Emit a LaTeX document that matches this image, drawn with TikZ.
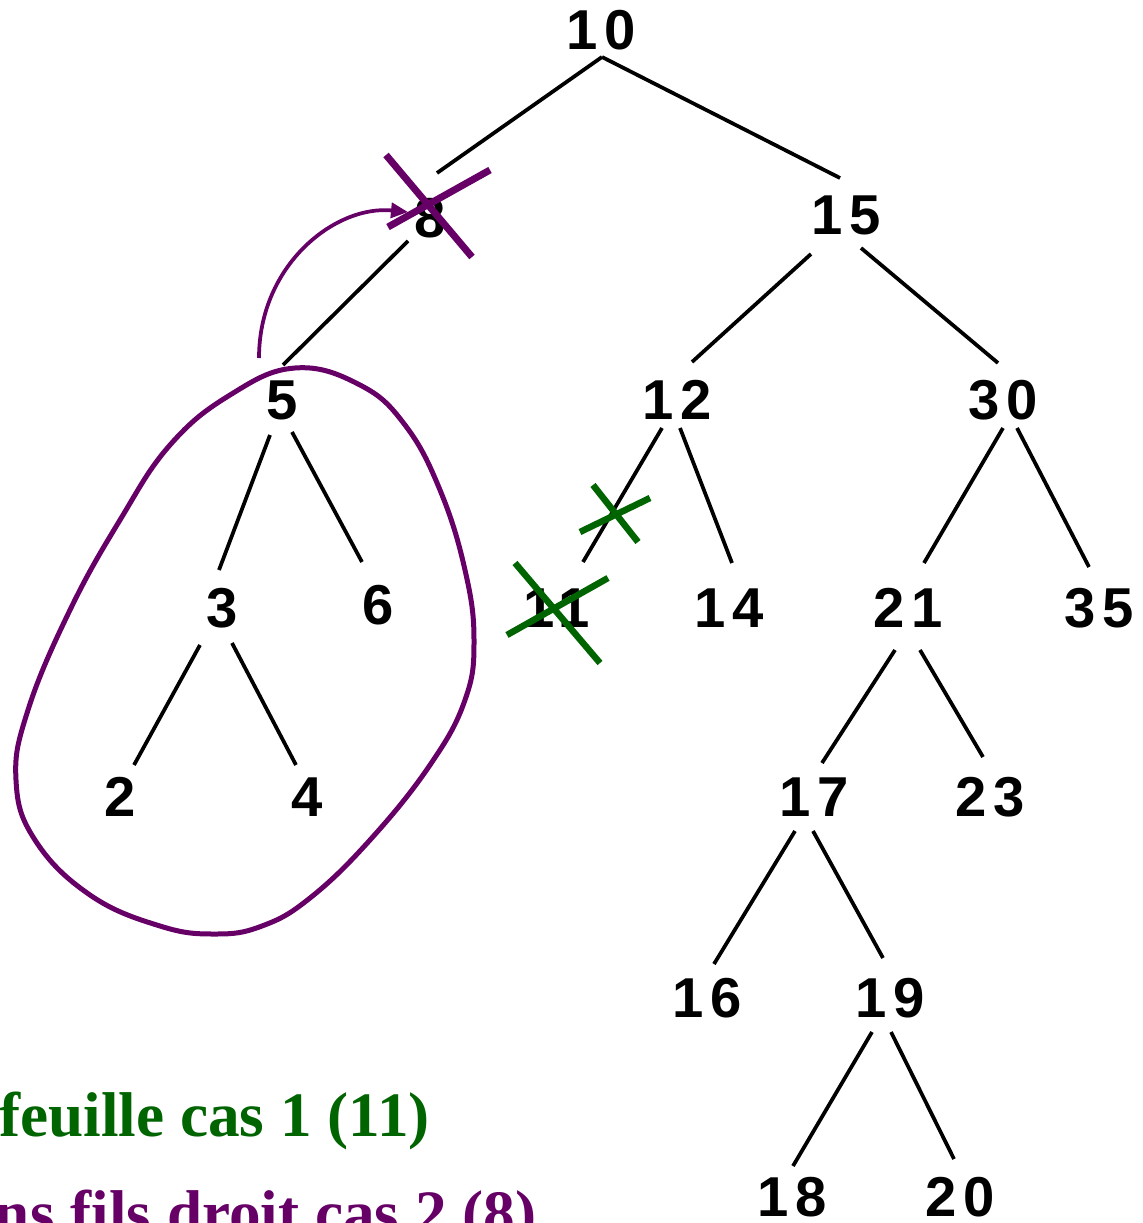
\documentclass[tikz,border=0pt]{standalone}
\usepackage{fontspec}
\newfontfamily\keyfont[LetterSpace=12]{Liberation Sans}
\newfontfamily\notefont{Liberation Serif}
\usetikzlibrary{arrows.meta}
\definecolor{casgreen}{RGB}{0,100,0}
\definecolor{caspurple}{RGB}{102,0,102}

\begin{document}
\begin{tikzpicture}[
  x=0.02cm, y=-0.02cm,
  key/.style={inner sep=0pt, font={\keyfont\bfseries\fontsize{32}{36}\selectfont}},
  link/.style={black, line width=0.075cm},
  ring/.style={caspurple, line width=0.1cm},
  strike/.style={line width=0.14cm},
  note/.style={inner sep=0pt, anchor=base east, font={\notefont\bfseries\fontsize{36}{42}\selectfont}}
]
  \useasboundingbox (0,0) rectangle (1142,1223);

  % keys of the tree
  \node[key] (n10) at (601,30) {10};
  \node[key] (n8) at (430,218) {8};
  \node[key] (n15) at (846,215) {15};
  \node[key] (n5) at (282,400) {5};
  \node[key] (n12) at (677,400) {12};
  \node[key] (n30) at (1003,400) {30};
  \node[key] (n3) at (222,608) {3};
  \node[key] (n6) at (378,605) {6};
  \node[key] (n11) at (557,608) {11};
  \node[key] (n14) at (729,608) {14};
  \node[key] (n21) at (908,608) {21};
  \node[key] (n35) at (1099,608) {35};
  \node[key] (n2) at (120,797) {2};
  \node[key] (n4) at (307,797) {4};
  \node[key] (n17) at (814,797) {17};
  \node[key] (n23) at (990,797) {23};
  \node[key] (n16) at (707,998) {16};
  \node[key] (n19) at (890,998) {19};
  \node[key] (n18) at (792,1197) {18};
  \node[key] (n20) at (960,1197) {20};

  % father -> son links
  \foreach \a/\ax/\ay/\b/\bx/\by in {
      10/1/27/8/7/-45, 10/1/27/15/-6/-37,
      8/-22/23/5/1/-35, 15/-35/39/12/15/-38, 15/15/33/30/-5/-37,
      5/-12/35/3/-3/-38, 5/10/32/6/-16/-43,
      12/-15/28/11/26/-46, 12/3/28/14/3/-45,
      30/0/28/21/16/-45, 30/14/28/35/-10/-41,
      3/-22/37/2/14/-32, 3/10/35/4/-11/-32,
      21/-13/42/17/8/-34, 21/12/42/23/-7/-40,
      17/-19/34/16/7/-34, 17/-1/34/19/-7/-40,
      19/-18/34/18/1/-31, 19/1/34/20/-6/-38}
    \draw[link] ([shift={(\ax,\ay)}]n\a.center) -- ([shift={(\bx,\by)}]n\b.center);

  % subtree of 5 moved up
  \draw[ring] plot[smooth cycle, tension=0.7] coordinates {
      (295,368) (360,385) (405,425) (440,490) (465,570) (474,640)
      (465,700) (430,765) (370,840) (310,898) (262,926) (215,934)
      (160,926) (90,895) (35,840) (16,780) (28,710) (70,610)
      (120,520) (170,445) (230,395)};
  \coordinate (lift) at (259,358);
  \draw[ring, line width=0.075cm, -{Triangle[length=0.34cm,width=0.3cm]}]
    (lift) .. controls (259,265) and (335,205) .. ([shift={(-22,-6)}]n8.center);

  % deleted keys
  \draw[strike, caspurple] (386,155) -- (472,257) (388,227) -- (490,170);
  \draw[strike, casgreen, line width=0.13cm] (593,485) -- (638,542) (580,532) -- (650,498);
  \draw[strike, casgreen, line width=0.13cm] (515,563) -- (600,663) (507,635) -- (608,578);

  % captions
  \node[note, text=casgreen] (case1) at (430,1136) {feuille cas 1 (11)};
  \node[note, text=caspurple] (case2) at (537,1234) {ns fils droit cas 2 (8)};
\end{tikzpicture}
\end{document}
